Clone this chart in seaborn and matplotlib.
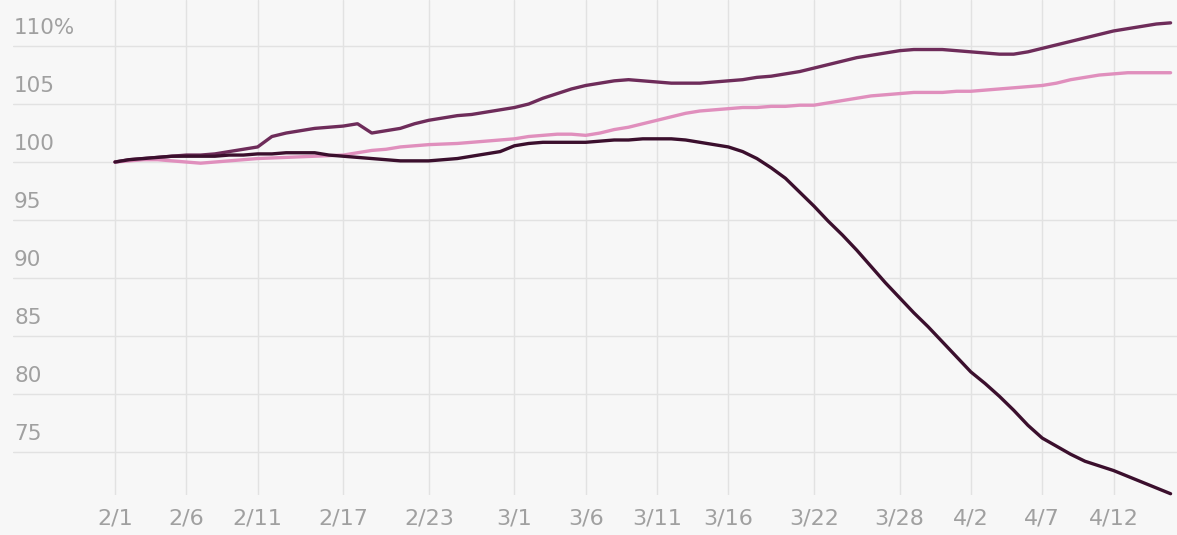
import numpy as np
import pandas as pd
import matplotlib
matplotlib.use("Agg")
import matplotlib.pyplot as plt
import matplotlib.dates as mdates
import matplotlib.transforms as mtransforms
import seaborn as sns

# ---------------- data ----------------
start_date = "2021-02-01"
n_days = 75

series_top = [
    100.0, 100.2, 100.3, 100.4, 100.5, 100.6, 100.6, 100.7, 100.9, 101.1,
    101.3, 102.2, 102.5, 102.7, 102.9, 103.0, 103.1, 103.3, 102.5, 102.7,
    102.9, 103.3, 103.6, 103.8, 104.0, 104.1, 104.3, 104.5, 104.7, 105.0,
    105.5, 105.9, 106.3, 106.6, 106.8, 107.0, 107.1, 107.0, 106.9, 106.8,
    106.8, 106.8, 106.9, 107.0, 107.1, 107.3, 107.4, 107.6, 107.8, 108.1,
    108.4, 108.7, 109.0, 109.2, 109.4, 109.6, 109.7, 109.7, 109.7, 109.6,
    109.5, 109.4, 109.3, 109.3, 109.5, 109.8, 110.1, 110.4, 110.7, 111.0,
    111.3, 111.5, 111.7, 111.9, 112.0,
]

series_pink = [
    100.0, 100.1, 100.2, 100.2, 100.1, 100.0, 99.9, 100.0, 100.1, 100.2,
    100.3, 100.35, 100.4, 100.45, 100.5, 100.55, 100.6, 100.8, 101.0, 101.1,
    101.3, 101.4, 101.5, 101.55, 101.6, 101.7, 101.8, 101.9, 102.0, 102.2,
    102.3, 102.4, 102.4, 102.3, 102.5, 102.8, 103.0, 103.3, 103.6, 103.9,
    104.2, 104.4, 104.5, 104.6, 104.7, 104.7, 104.8, 104.8, 104.9, 104.9,
    105.1, 105.3, 105.5, 105.7, 105.8, 105.9, 106.0, 106.0, 106.0, 106.1,
    106.1, 106.2, 106.3, 106.4, 106.5, 106.6, 106.8, 107.1, 107.3, 107.5,
    107.6, 107.7, 107.7, 107.7, 107.7,
]

series_dark = [
    100.0, 100.2, 100.3, 100.4, 100.5, 100.5, 100.5, 100.5, 100.6, 100.6,
    100.7, 100.7, 100.8, 100.8, 100.8, 100.6, 100.5, 100.4, 100.3, 100.2,
    100.1, 100.1, 100.1, 100.2, 100.3, 100.5, 100.7, 100.9, 101.4, 101.6,
    101.7, 101.7, 101.7, 101.7, 101.8, 101.9, 101.9, 102.0, 102.0, 102.0,
    101.9, 101.7, 101.5, 101.3, 100.9, 100.3, 99.5, 98.6, 97.4, 96.2,
    94.9, 93.7, 92.4, 91.0, 89.6, 88.3, 87.0, 85.8, 84.5, 83.2,
    81.9, 80.9, 79.8, 78.6, 77.3, 76.2, 75.5, 74.8, 74.2, 73.8,
    73.4, 72.9, 72.4, 71.9, 71.4,
]

series_names = ["Series A", "Series B", "Series C"]
tick_dates = ["2021-02-01", "2021-02-06", "2021-02-11", "2021-02-17", "2021-02-23",
              "2021-03-01", "2021-03-06", "2021-03-11", "2021-03-16", "2021-03-22",
              "2021-03-28", "2021-04-02", "2021-04-07", "2021-04-12"]
tick_labels = ["2/1", "2/6", "2/11", "2/17", "2/23", "3/1", "3/6", "3/11",
               "3/16", "3/22", "3/28", "4/2", "4/7", "4/12"]
y_ticks = [75, 80, 85, 90, 95, 100, 105, 110]
y_labels = ["75", "80", "85", "90", "95", "100", "105", "110%"]

# ---------------- figure ----------------
dates = pd.date_range(start_date, periods=n_days)
df = pd.DataFrame({
    "date": np.concatenate([dates] * 3),
    "value": np.concatenate([series_top, series_pink, series_dark]),
    "series": np.repeat(series_names, n_days),
})

bg = "#f7f7f7"
sns.set_theme(style="white")
plt.rcParams["font.family"] = ["DejaVu Sans"]

W, H = 1177, 535
fig = plt.figure(figsize=(W / 100, H / 100), dpi=100, facecolor=bg)
ax = fig.add_axes([13 / W, 40 / H, 1 - 13 / W, 495 / H])
ax.set_facecolor(bg)

palette = {"Series A": "#6e2c5a", "Series B": "#e08fbd", "Series C": "#3b0f2d"}
sns.lineplot(data=df, x="date", y="value", hue="series", palette=palette,
             linewidth=2.4, legend=False, ax=ax, zorder=3)
for ln in ax.get_lines():
    ln.set_clip_on(False)
    ln.set_solid_capstyle("round")
    ln.set_solid_joinstyle("round")

d0 = mdates.date2num(dates[0])
ax.set_xlim(d0 - 7.15, d0 + 74.45)
ax.set_ylim(71.29, 113.97)

grid_c = "#e2e2e2"
for t in tick_dates:
    ax.axvline(pd.Timestamp(t), color=grid_c, lw=1, zorder=1)
for v in y_ticks:
    ax.axhline(v, color=grid_c, lw=1, zorder=1)

txt_c = "#a0a0a0"
ax.set_xticks([pd.Timestamp(t) for t in tick_dates])
ax.set_xticklabels(tick_labels)
ax.tick_params(axis="x", length=0, pad=10, labelsize=16, labelcolor=txt_c)
ax.set_yticks([])
ax.set_xlabel("")
ax.set_ylabel("")

trans = mtransforms.blended_transform_factory(fig.transFigure, ax.transData)
trans = mtransforms.offset_copy(trans, fig=fig, x=0, y=8, units="dots")
for v, lab in zip(y_ticks, y_labels):
    ax.text(14 / W, v, lab, transform=trans, ha="left", va="bottom",
            fontsize=15.5, color=txt_c)

for s in ax.spines.values():
    s.set_visible(False)

fig.savefig("out.png", dpi=100, facecolor=bg)
